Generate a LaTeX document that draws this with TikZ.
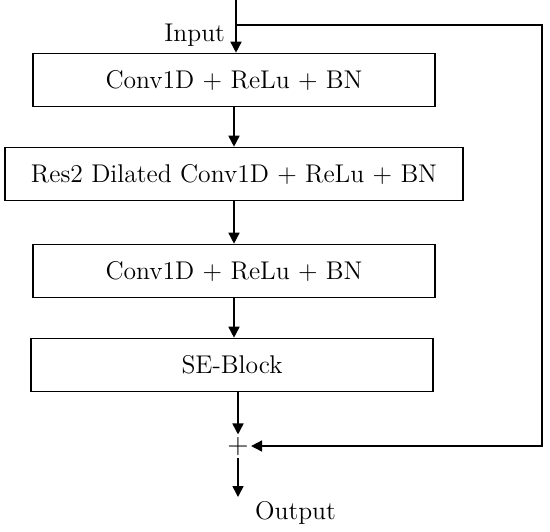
\documentclass[tikz,border=0pt]{standalone}
\usetikzlibrary{arrows.meta,positioning}

\begin{document}
\begin{tikzpicture}[
x=0.5pt, y=-0.5pt,
font=\fontsize{12.8}{15}\selectfont,
block/.style={draw=black, line width=0.8pt, minimum width=201pt, minimum height=26.5pt, inner sep=2pt},
wideblock/.style={block, minimum width=229pt},
link/.style={draw=black, line width=0.8pt},
arrow/.style={-{Triangle[length=5.5pt,width=5.5pt]}, draw=black, line width=0.8pt}
]
\useasboundingbox (0,0) rectangle (550,531);

\coordinate (in) at (236,0);
\coordinate (split) at (236,25);
\coordinate (fb) at (542,25);

\node[block] (conva) at (234,80) {Conv1D + ReLu + BN};
\node[wideblock] (res) at (234,174) {Res2 Dilated Conv1D + ReLu + BN};
\node[block] (convb) at (234,271) {Conv1D + ReLu + BN};
\node[block] (se) at (232,365) {SE-Block};
\node[inner sep=1pt, font=\fontsize{14}{15}\selectfont] (sum) at (238,446) {+};
\coordinate (out) at (238,497);

\node[anchor=east] (inlbl) at (232,35) {Input};
\node[anchor=west] (outlbl) at (248,513) {Output};

\draw[arrow] (in) -- (in |- conva.north);
\draw[arrow] (conva.south) -- (res.north);
\draw[arrow] (res.south) -- (convb.north);
\draw[arrow] (convb.south) -- (convb.south |- se.north);
\draw[arrow] (se.south -| sum) -- (sum.north);
\draw[arrow] (sum.south) -- (out);

% skip connection
\draw[arrow] (split) -- (fb) |- (sum.east);
\end{tikzpicture}
\end{document}
